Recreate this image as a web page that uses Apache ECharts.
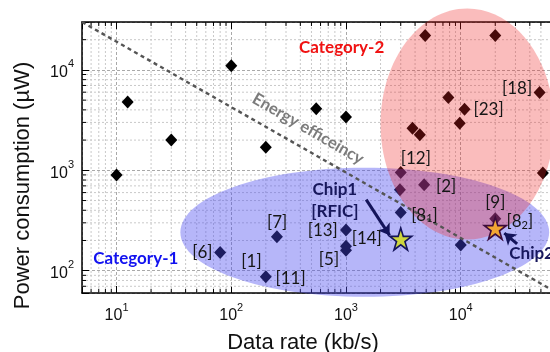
<!DOCTYPE html>
<html>
<head>
<meta charset="utf-8">
<script src="https://cdn.jsdelivr.net/npm/echarts@6/dist/echarts.min.js"></script>
<style>
html, body { margin: 0; padding: 0; background: #fff; }
#chart { width: 550px; height: 352px; }
</style>
</head>
<body>
<div id="chart"></div>
<script>
// published works: data rate (kb/s) vs power (uW)
var refRate  = [10, 12.5, 30, 100, 200, 550, 1000, 80, 250, 200, 1000, 1000, 1000, 3000, 2950, 4800, 3000, 10000, 20000, 3800, 4400, 4900, 20000, 7800, 10800, 9800, 48700, 52000];
var refPower = [900, 4800, 2000, 11000, 1700, 4100, 3400, 152, 218, 87, 255, 160, 175, 950, 640, 720, 380, 180, 330, 2630, 2260, 22000, 22000, 5300, 4060, 2950, 5950, 940];

// this work
var chipRate  = [3000, 20000];
var chipPower = [207, 265];
var chipFill  = ['#cdd53c', '#f2a633'];
var chipEdge  = ['#14145a', '#3c0c3c'];

// energy efficiency guide line
var lineRate  = [5, 60000];
var linePower = [30000, 66];

// category regions (data extents of the ellipses)
var cat1Rate  = [36, 59000];
var cat1Power = [55, 1060];
var cat2Rate  = [2000, 65000];
var cat2Power = [205, 41000];

// arrows pointing at the chips
var arrowFromRate  = [1500, 31000];
var arrowFromPower = [510, 185];
var arrowToRate    = [2400, 24000];
var arrowToPower   = [225, 237];

// text annotations
var noteText  = ['[6]', '[7]', '[1]', '[11]', '[13]', '[5]', '[14]', 'Chip1', '[RFIC]', '[8{sub|1}]', '[9]', '[8{sub|2}]', 'Chip2', '[2]', '[12]', '[23]', '[18]', 'Category-1', 'Category-2', 'Energy efficeincy'];
var noteRate  = [56, 251, 150, 329, 627, 711, 1517, 800, 800, 4830, 20000, 32700, 41500, 7470, 4060, 17500, 31000, 14.7, 917, 468];
var notePower = [152, 303, 124, 84.6, 250, 129, 207, 650, 390, 358, 480, 307, 147, 692, 1313, 4060, 6530, 131, 16700, 2590];
var noteKind  = ['ref', 'ref', 'ref', 'ref', 'ref', 'ref', 'ref', 'chip', 'chip', 'ref', 'ref', 'ref', 'chip', 'ref', 'ref', 'ref', 'ref', 'cat1', 'cat2', 'eff'];

// axes
var xMin = 5, xMax = 60000;
var yMin = 60, yMax = 30000;
var xDecades = [1, 10, 100, 1000, 10000];
var yDecades = [10, 100, 1000, 10000];

var noteStyle = {
    ref:  { color: '#161616', fontSize: 17, fontWeight: 'normal' },
    chip: { color: '#17175c', fontSize: 17, fontWeight: 'bold' },
    cat1: { color: '#1212f0', fontSize: 17, fontWeight: 'bold' },
    cat2: { color: '#f01212', fontSize: 17, fontWeight: 'bold' },
    eff:  { color: '#7c7c7c', fontSize: 16.5, fontWeight: 'bold', rotate: -30 }
};

function minorValues(decades, lo, hi) {
    var out = [];
    decades.forEach(function (d) {
        for (var m = 2; m <= 9; m++) {
            var v = d * m;
            if (v > lo && v < hi) out.push(v);
        }
    });
    return out;
}
var xMinor = minorValues(xDecades, xMin, xMax);
var yMinor = minorValues(yDecades, yMin, yMax);

function powLabel(v) {
    var e = Math.log10(v);
    if (Math.abs(e - Math.round(e)) > 1e-6) return '';
    return '{b|10}{s|' + Math.round(e) + '}';
}

var tickRich = {
    b: { fontSize: 16, fontFamily: 'Liberation Sans', color: '#111', verticalAlign: 'bottom', lineHeight: 22 },
    s: { fontSize: 11, fontFamily: 'Liberation Sans', color: '#111', verticalAlign: 'top', lineHeight: 22 }
};

function ellipseSeries(rates, powers, color) {
    return {
        type: 'custom',
        silent: true,
        clip: false,
        z: 3,
        encode: { x: [0, 2], y: [1, 3] },
        data: [[rates[0], powers[0], rates[1], powers[1]]],
        renderItem: function (params, api) {
            var a = api.coord([api.value(0), api.value(3)]);
            var b = api.coord([api.value(2), api.value(1)]);
            return {
                type: 'ellipse',
                shape: { cx: (a[0] + b[0]) / 2, cy: (a[1] + b[1]) / 2, rx: (b[0] - a[0]) / 2, ry: (b[1] - a[1]) / 2 },
                style: { fill: color }
            };
        }
    };
}

var minorLine = { stroke: '#c9c9c9', lineWidth: 1, lineDash: [2, 2] };
var minorTick = { stroke: '#000', lineWidth: 1 };

var chart = echarts.init(document.getElementById('chart'));
var option = {
    animation: false,
    grid: { left: 82, right: 0, top: 22, bottom: 59, containLabel: false, outerBoundsMode: 'none' },
    xAxis: [{
        type: 'log', logBase: 10, min: xMin, max: xMax,
        name: 'Data rate (kb/s)', nameLocation: 'middle', nameGap: 39,
        nameTextStyle: { fontSize: 22, fontFamily: 'Liberation Sans', color: '#111', padding: [0, 26, 0, 0] },
        axisLine: { lineStyle: { color: '#000', width: 1.5 } },
        axisTick: { inside: true, length: 7, lineStyle: { color: '#000' } },
        axisLabel: { formatter: powLabel, rich: tickRich, margin: 9 },
        splitLine: { show: true, lineStyle: { color: '#a9a9a9', type: [3, 2] } }
    }, {
        type: 'log', logBase: 10, min: xMin, max: xMax, position: 'top',
        axisLine: { lineStyle: { color: '#000', width: 1.5 } },
        axisTick: { inside: true, length: 7, lineStyle: { color: '#000' } },
        axisLabel: { show: false },
        splitLine: { show: false }
    }],
    yAxis: {
        type: 'log', logBase: 10, min: yMin, max: yMax,
        name: 'Power consumption (\u00b5W)', nameLocation: 'middle', nameGap: 48,
        nameTextStyle: { fontSize: 22, fontFamily: 'Liberation Sans', color: '#111', padding: [0, 56, 0, 0] },
        axisLine: { lineStyle: { color: '#000', width: 1.5 } },
        axisTick: { inside: true, length: 7, lineStyle: { color: '#000' } },
        axisLabel: { formatter: powLabel, rich: tickRich, margin: 8 },
        splitLine: { show: true, lineStyle: { color: '#a9a9a9', type: [3, 2] } }
    },
    series: [
        {
            // minor vertical grid + ticks
            type: 'custom', silent: true, z: 1,
            data: xMinor.map(function (v) { return [v, yMin]; }),
            renderItem: function (params, api) {
                var v = api.value(0);
                var p0 = api.coord([v, yMin]), p1 = api.coord([v, yMax]);
                return { type: 'group', children: [
                    { type: 'line', shape: { x1: p0[0], y1: p0[1], x2: p1[0], y2: p1[1] }, style: minorLine },
                    { type: 'line', shape: { x1: p0[0], y1: p0[1], x2: p0[0], y2: p0[1] - 4 }, style: minorTick },
                    { type: 'line', shape: { x1: p1[0], y1: p1[1], x2: p1[0], y2: p1[1] + 4 }, style: minorTick }
                ]};
            }
        },
        {
            // minor horizontal grid + ticks
            type: 'custom', silent: true, z: 1,
            data: yMinor.map(function (v) { return [xMin, v]; }),
            renderItem: function (params, api) {
                var v = api.value(1);
                var p0 = api.coord([xMin, v]), p1 = api.coord([xMax, v]);
                return { type: 'group', children: [
                    { type: 'line', shape: { x1: p0[0], y1: p0[1], x2: p1[0], y2: p1[1] }, style: minorLine },
                    { type: 'line', shape: { x1: p0[0], y1: p0[1], x2: p0[0] + 4, y2: p0[1] }, style: minorTick }
                ]};
            }
        },
        {
            name: 'refs', type: 'scatter', z: 2,
            symbol: 'diamond', symbolSize: [12, 13],
            itemStyle: { color: '#000', opacity: 1 },
            data: refRate.map(function (x, i) { return [x, refPower[i]]; })
        },
        ellipseSeries(cat1Rate, cat1Power, 'rgba(73, 73, 239, 0.40)'),
        ellipseSeries(cat2Rate, cat2Power, 'rgba(240, 34, 34, 0.30)'),
        {
            name: 'efficiency', type: 'line', z: 4, symbol: 'none', silent: true,
            lineStyle: { color: '#555', width: 2.4, type: [4, 3.5] },
            data: lineRate.map(function (x, i) { return [x, linePower[i]]; })
        },
        {
            name: 'chips', type: 'scatter', z: 5,
            symbol: 'path://M50,0 L61.2,34.5 L97.6,34.5 L68.2,55.9 L79.4,90.5 L50,69.1 L20.6,90.5 L31.8,55.9 L2.4,34.5 L38.8,34.5 Z',
            symbolSize: 22,
            data: chipRate.map(function (x, i) {
                return { value: [x, chipPower[i]], itemStyle: { color: chipFill[i], borderColor: chipEdge[i], borderWidth: 1.6, opacity: 1 } };
            })
        },
        {
            name: 'arrows', type: 'lines', coordinateSystem: 'cartesian2d', z: 6, silent: true,
            symbol: ['none', 'arrow'], symbolSize: 11,
            lineStyle: { color: '#14145a', width: 3, opacity: 1 },
            data: arrowFromRate.map(function (x, i) {
                return { coords: [[x, arrowFromPower[i]], [arrowToRate[i], arrowToPower[i]]] };
            })
        },
        {
            name: 'notes', type: 'scatter', z: 7, symbolSize: 0, silent: true,
            itemStyle: { opacity: 1 },
            data: noteText.map(function (t, i) {
                var s = noteStyle[noteKind[i]];
                return {
                    value: [noteRate[i], notePower[i]],
                    label: {
                        show: true, position: 'inside', formatter: t, opacity: 1,
                        fontFamily: 'Lato', fontSize: s.fontSize, fontWeight: s.fontWeight,
                        color: s.color, rotate: s.rotate || 0,
                        rich: { sub: { fontFamily: 'Lato', fontSize: 11, color: s.color, verticalAlign: 'bottom', padding: [7, 0, 0, 0] } }
                    }
                };
            })
        }
    ]
};
chart.setOption(option);
</script>
</body>
</html>
